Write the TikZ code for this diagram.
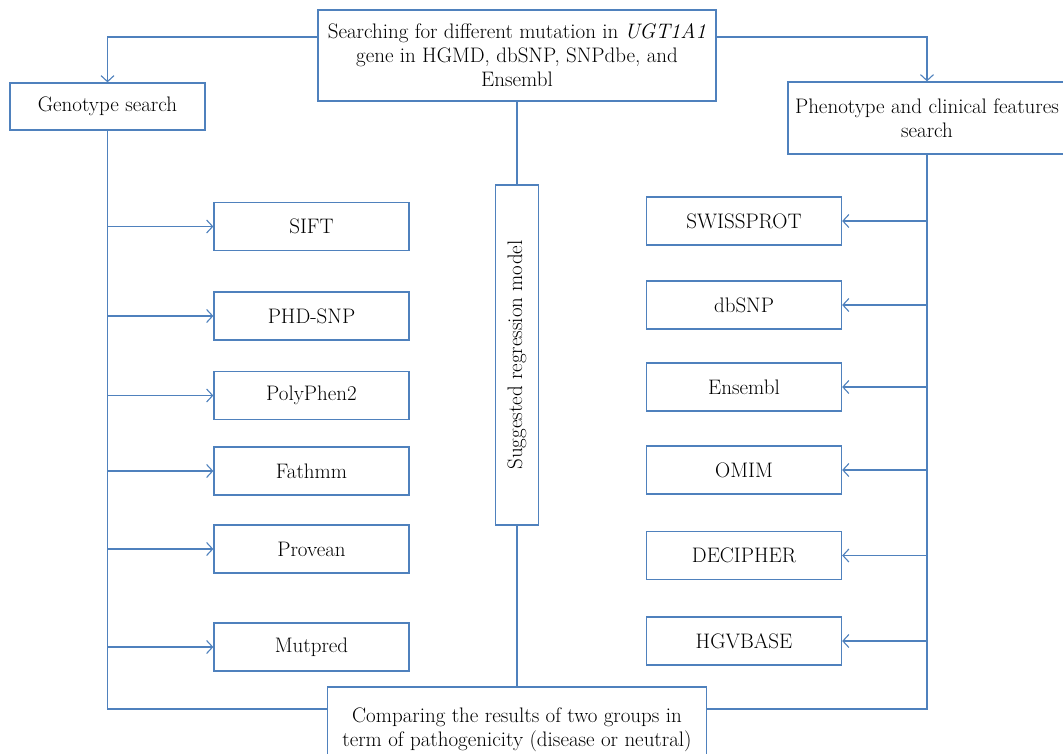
\documentclass[tikz,border=0pt]{standalone}
\usepackage{amsmath}
\usetikzlibrary{positioning,arrows.meta}
\definecolor{lineblue}{RGB}{79,129,189}

\begin{document}
\begin{tikzpicture}[x=1pt,y=-1pt,
  box/.style={draw=lineblue, line width=1.3pt, inner sep=2pt, align=center,
    font=\fontsize{21}{24}\selectfont},
  toolbox/.style={box, minimum width=195pt, minimum height=48pt},
  link/.style={draw=lineblue, line width=1.3pt},
  arrow/.style={link, -{Straight Barb[length=6pt,width=13pt,line width=1.1pt]}}]

\useasboundingbox (0,0) rectangle (1063,753);
% main boxes
\node [box, minimum width=398pt, minimum height=91pt] (search) at (517,55.5)
  {Searching for different mutation in \textit{UGT1A1}\\gene in HGMD, dbSNP, SNPdbe, and\\Ensembl};
\node [box, minimum width=195pt, minimum height=47pt] (geno) at (107.5,106.5) {Genotype search};
\node [box, minimum width=278pt, minimum height=72pt] (pheno) at (927,118)
  {Phenotype and clinical features\\search};
\node [box, rotate=90, minimum width=340pt, minimum height=43pt] (model) at (517,355)
  {Suggested regression model};
\node [box, minimum width=379pt, minimum height=86pt] (compare) at (517,730)
  {Comparing the results of two groups in\\term of pathogenicity (disease or neutral)};
% genotype tools
\node [toolbox] (sift) at (311.5,226.5) {SIFT};
\node [toolbox] (phd) at (311.5,316) {PHD-SNP};
\node [toolbox] (poly) at (311.5,395.5) {PolyPhen2};
\node [toolbox] (fathmm) at (311.5,471) {Fathmm};
\node [toolbox] (provean) at (311.5,549) {Provean};
\node [toolbox] (mutpred) at (311.5,647) {Mutpred};
% phenotype tools
\node [toolbox] (swiss) at (744,221) {SWISSPROT};
\node [toolbox] (dbsnp) at (744,305) {dbSNP};
\node [toolbox] (ensembl) at (744,387) {Ensembl};
\node [toolbox] (omim) at (744,470) {OMIM};
\node [toolbox] (decipher) at (744,555.5) {DECIPHER};
\node [toolbox] (hgvbase) at (744,641) {HGVBASE};
% top branches
\draw [arrow] ([yshift=18.5pt]search.west) -| (geno.north);
\draw [arrow] ([yshift=18.5pt]search.east) -| (pheno.north);
% middle line
\draw [link] (search.south) -- (model.east);
\draw [link] (model.west) -- (compare.north);
% side lines
\draw [link] (geno.south) |- ([yshift=21pt]compare.west);
\draw [link] (pheno.south) |- ([yshift=21pt]compare.east);
\foreach \t in {sift,phd,poly,fathmm,provean,mutpred}
  \draw [arrow] (geno.south |- \t.west) -- (\t.west);
\foreach \t in {swiss,dbsnp,ensembl,omim,decipher,hgvbase}
  \draw [arrow] (pheno.south |- \t.east) -- (\t.east);

\end{tikzpicture}
\end{document}
